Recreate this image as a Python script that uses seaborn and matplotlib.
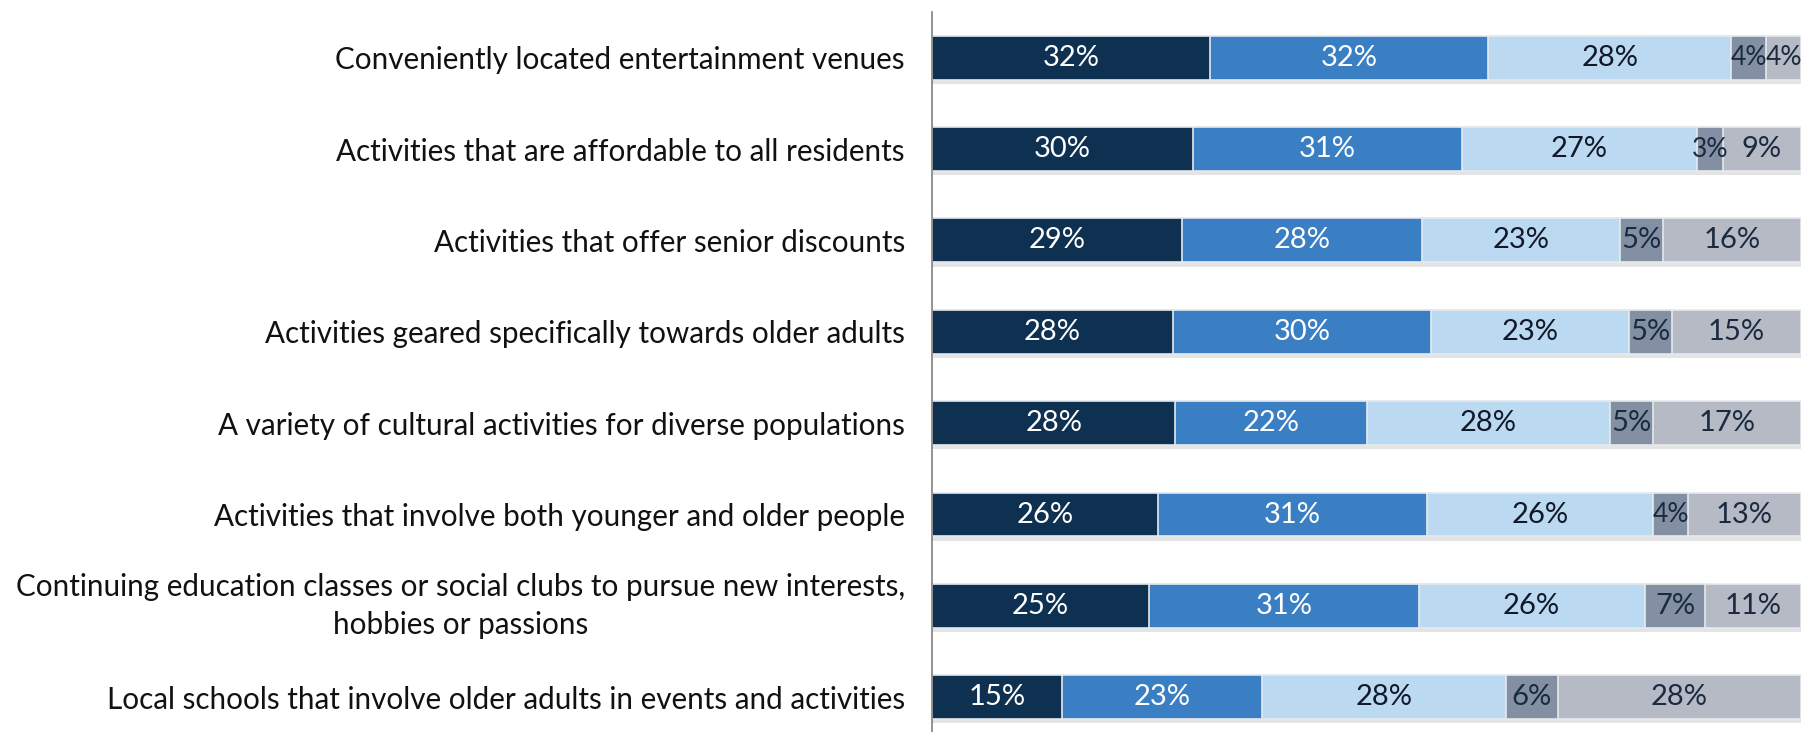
import numpy as np
import pandas as pd
import matplotlib
matplotlib.use("Agg")
import matplotlib.pyplot as plt
import matplotlib.patheffects as pe
import seaborn as sns

categories = [
    "Conveniently located entertainment venues",
    "Activities that are affordable to all residents",
    "Activities that offer senior discounts",
    "Activities geared specifically towards older adults",
    "A variety of cultural activities for diverse populations",
    "Activities that involve both younger and older people",
    "Continuing education classes or social clubs to pursue new interests,\nhobbies or passions",
    "Local schools that involve older adults in events and activities",
]
seg1 = [32, 30, 29, 28, 28, 26, 25, 15]
seg2 = [32, 31, 28, 30, 22, 31, 31, 23]
seg3 = [28, 27, 23, 23, 28, 26, 26, 28]
seg4 = [4, 3, 5, 5, 5, 4, 7, 6]
seg5 = [4, 9, 16, 15, 17, 13, 11, 28]

series = [seg1, seg2, seg3, seg4, seg5]
colors = ["#0e3152", "#3a7fc3", "#bcd9f2", "#8390a3", "#b5bac4"]
text_colors = ["white", "white", "#111827", "#1b2a40", "#1b2a40"]

sns.set_theme(style="white")
plt.rcParams["font.family"] = ["Lato", "DejaVu Sans"]

fig = plt.figure(figsize=(18.16, 7.32), dpi=100)
ax = fig.add_axes([932 / 1816, 0.0, (1801 - 932) / 1816, (732 - 12) / 732])

vals = np.array(series, dtype=float)  # shape (5, 8)
totals = vals.sum(axis=0)
norm = vals / totals * 100.0
cum = np.cumsum(norm, axis=0)

shadow = [pe.SimplePatchShadow(offset=(0, -3), shadow_rgbFace="#a0a0a0", alpha=0.28), pe.Normal()]

for i in range(len(series) - 1, -1, -1):
    df = pd.DataFrame({"cat": categories, "val": cum[i]})
    sns.barplot(data=df, x="val", y="cat", orient="h", color=colors[i],
                width=0.48, saturation=1, edgecolor="#e6e9ee", linewidth=1.2, ax=ax)

for p in ax.patches[:len(categories)]:
    p.set_path_effects(shadow)

for i in range(len(series)):
    for j in range(len(categories)):
        center = cum[i, j] - norm[i, j] / 2
        fs = 19 if norm[i, j] <= 4.5 else 21
        ax.text(center, j, f"{int(series[i][j])}%", ha="center", va="center",
                fontsize=fs, color=text_colors[i])

ax.set_xlim(0, 100)
ax.set_ylim(7.38, -0.5)
ax.set_xlabel("")
ax.set_ylabel("")
ax.set_xticks([])
ax.tick_params(axis="y", length=0, pad=19.5, labelsize=21.3, colors="#111111")
for lbl in ax.get_yticklabels():
    lbl.set_multialignment("center")
    lbl.set_linespacing(1.45)
    if "\n" in lbl.get_text():
        lbl.set_va("center")
for s in ["top", "right", "bottom"]:
    ax.spines[s].set_visible(False)
ax.spines["left"].set_color("#808080")
ax.spines["left"].set_linewidth(1.2)

fig.savefig("out.png", dpi=100)
